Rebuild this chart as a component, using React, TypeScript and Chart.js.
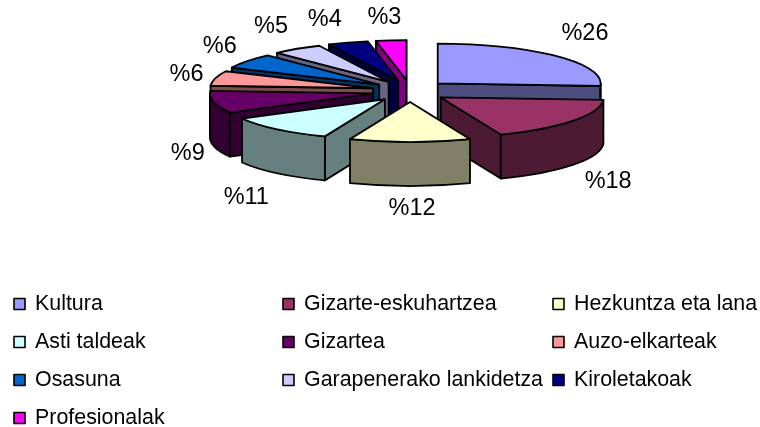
import React, { useEffect, useRef } from "react";
import { Chart, registerables } from "chart.js";

Chart.register(...registerables);

const categories = [
  "Kultura",
  "Gizarte-eskuhartzea",
  "Hezkuntza eta lana",
  "Asti taldeak",
  "Gizartea",
  "Auzo-elkarteak",
  "Osasuna",
  "Garapenerako lankidetza",
  "Kiroletakoak",
  "Profesionalak",
];
const shares = [26, 18, 12, 11, 9, 6, 6, 5, 4, 3];
const topColors = ["#9999FF", "#993366", "#FFFFCC", "#CCFFFF", "#660066", "#FF9999", "#0066CC", "#CCCCFF", "#000080", "#FF00FF"];
const wallColors = ["#4D4D80", "#4D1A33", "#808066", "#668080", "#330033", "#804D4D", "#003366", "#666680", "#000040", "#800080"];
const paintOrder = [9, 8, 7, 6, 5, 4, 0, 3, 1, 2];

const FONT = '"Liberation Sans", Arial, sans-serif';
const TILT = 0.245;
const DEPTH = 44;
const EXPLODE_X = 38;
const EXPLODE_Y = 11;
const OUTLINE = 1.8;

const legendColumns = [14, 283, 553];
const legendRows = [304, 342, 380, 418];
const labelNudgeX = [0, 4, 2, -5, 12, 9, 4, -4, -11, -3];
const labelNudgeY = [-4, 1, -4, 4, 2, 3, 1, 0, 3, 4];

const piePlugin = {
  id: "tiltedPie",
  beforeDatasetsDraw(chart: any) {
    const ctx: CanvasRenderingContext2D = chart.ctx;
    const arcs = chart.getDatasetMeta(0).data;
    ctx.save();
    ctx.lineWidth = OUTLINE;
    ctx.strokeStyle = "#000";
    ctx.lineJoin = "round";

    const paintFace = (fill: string, build: () => void) => {
      ctx.beginPath();
      build();
      ctx.closePath();
      ctx.fillStyle = fill;
      ctx.fill();
      ctx.stroke();
    };

    for (const i of paintOrder) {
      const el = arcs[i];
      const { x, y, startAngle: a0, endAngle: a1, outerRadius: r } = el.getProps(
        ["x", "y", "startAngle", "endAngle", "outerRadius"],
        true
      );
      const mid = (a0 + a1) / 2;
      const ax = x + Math.cos(mid) * EXPLODE_X;
      const ay = y + Math.sin(mid) * EXPLODE_Y;
      const ry = r * TILT;
      const rim = (a: number) => [ax + r * Math.cos(a), ay + ry * Math.sin(a)];
      const wall = (a: number) =>
        paintFace(wallColors[i], () => {
          const [px, py] = rim(a);
          ctx.moveTo(ax, ay);
          ctx.lineTo(px, py);
          ctx.lineTo(px, py + DEPTH);
          ctx.lineTo(ax, ay + DEPTH);
        });

      if (Math.cos(a0) < 0) wall(a0);
      if (Math.cos(a1) > 0) wall(a1);

      const from = Math.max(a0, 0);
      const to = Math.min(a1, Math.PI);
      if (to > from) {
        paintFace(wallColors[i], () => {
          ctx.ellipse(ax, ay, r, ry, 0, from, to);
          ctx.ellipse(ax, ay + DEPTH, r, ry, 0, to, from, true);
        });
      }

      ctx.save();
      ctx.translate(ax, ay);
      ctx.scale(1, TILT);
      ctx.translate(-x, -y);
      el.draw(ctx);
      ctx.restore();

      ctx.beginPath();
      ctx.moveTo(ax, ay);
      ctx.ellipse(ax, ay, r, ry, 0, a0, a1);
      ctx.closePath();
      ctx.stroke();
    }

    ctx.fillStyle = "#000";
    ctx.textAlign = "center";
    ctx.textBaseline = "middle";
    ctx.font = `23.5px ${FONT}`;
    arcs.forEach((el: any, i: number) => {
      const { x, y, startAngle: a0, endAngle: a1 } = el.getProps(["x", "y", "startAngle", "endAngle"], true);
      const mid = (a0 + a1) / 2;
      const lx = x + 240 * Math.cos(mid) + labelNudgeX[i];
      const below = Math.sin(mid) > 0.1;
      const ly = y + 78 * Math.sin(mid) + (below ? DEPTH : 0) + labelNudgeY[i];
      ctx.fillText(`%${shares[i]}`, lx, ly);
    });

    ctx.textAlign = "left";
    ctx.font = `21.4px ${FONT}`;
    categories.forEach((name, i) => {
      const left = legendColumns[i % 3];
      const mid = legendRows[Math.floor(i / 3)];
      ctx.fillStyle = topColors[i];
      ctx.fillRect(left, mid - 5.5, 11, 11);
      ctx.lineWidth = 1.6;
      ctx.strokeRect(left, mid - 5.5, 11, 11);
      ctx.fillStyle = "#000";
      ctx.fillText(name, left + 21, mid);
    });
    ctx.restore();
    return false;
  },
};

export default function App() {
  const ref = useRef<HTMLCanvasElement>(null);
  useEffect(() => {
    const chart = new Chart(ref.current!, {
      type: "pie",
      data: {
        labels: categories,
        datasets: [{ data: shares, backgroundColor: topColors, borderWidth: 0 }],
      },
      options: {
        animation: false,
        responsive: false,
        radius: 163,
        layout: { padding: { left: 60, bottom: 245 } },
        plugins: { legend: { display: false }, tooltip: { enabled: false } },
      } as any,
      plugins: [piePlugin],
    });
    return () => chart.destroy();
  }, []);
  return (
    <canvas
      ref={ref}
      width={760}
      height={427}
      style={{ position: "absolute", left: 0, top: 0, display: "block", background: "#fff" }}
    />
  );
}
